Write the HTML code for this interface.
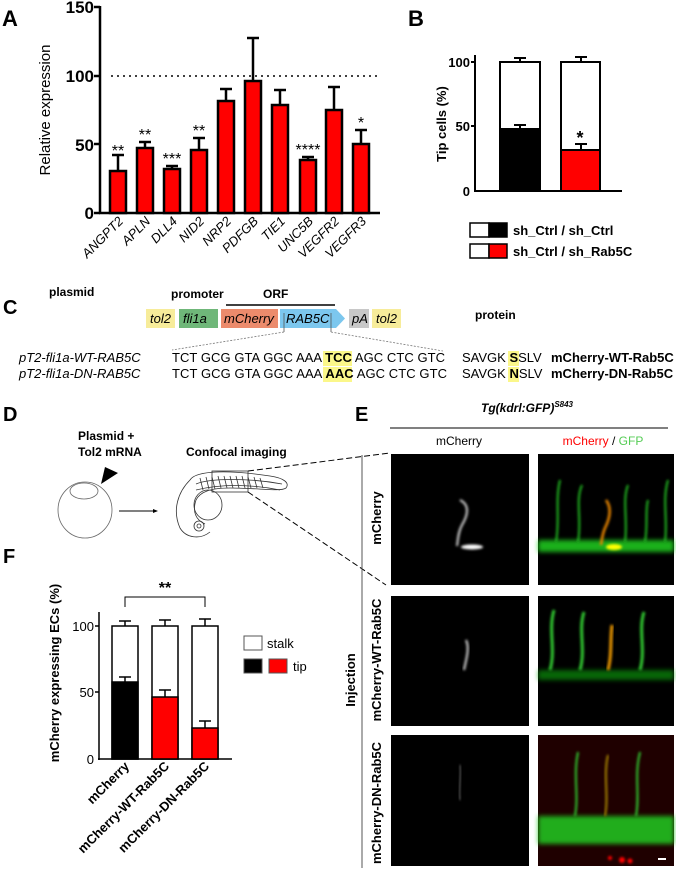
<!DOCTYPE html>
<html><head><meta charset="utf-8"><style>
html,body{margin:0;padding:0;background:#fff;}
svg{display:block;font-family:"Liberation Sans",Arial,sans-serif;}
</style></head><body>
<svg width="676" height="871" viewBox="0 0 676 871" xmlns="http://www.w3.org/2000/svg">
<defs>
<filter id="bl" x="-50%" y="-50%" width="200%" height="200%"><feGaussianBlur stdDeviation="1.2"/></filter>
<filter id="bl2" x="-50%" y="-50%" width="200%" height="200%"><feGaussianBlur stdDeviation="2.5"/></filter>
</defs>
<!-- Panel A -->
<text x="2" y="26" font-size="22" font-weight="bold">A</text>
<g font-weight="bold" font-size="17" text-anchor="end">
<text x="94" y="13">150</text><text x="94" y="82">100</text><text x="94" y="151">50</text><text x="94" y="219">0</text>
</g>
<g stroke="#000" stroke-width="2.5">
<line x1="100" y1="6" x2="100" y2="214"/><line x1="99" y1="213" x2="380" y2="213"/>
<line x1="94" y1="7" x2="100" y2="7"/><line x1="94" y1="76" x2="100" y2="76"/><line x1="94" y1="144" x2="100" y2="144"/><line x1="94" y1="213" x2="100" y2="213"/>
</g>
<text transform="translate(50,110) rotate(-90)" font-size="15" text-anchor="middle">Relative expression</text>
<line x1="111" y1="76" x2="377" y2="76" stroke="#000" stroke-width="1.5" stroke-dasharray="2,4"/>
<g stroke="#000" stroke-width="2.5">
<line x1="118" y1="171" x2="118" y2="155"/><line x1="112" y1="155" x2="124" y2="155"/>
<rect x="110" y="171" width="16" height="42" fill="#f00"/>
<line x1="145" y1="148" x2="145" y2="142"/><line x1="139" y1="142" x2="151" y2="142"/>
<rect x="137" y="148" width="16" height="65" fill="#f00"/>
<line x1="172" y1="169" x2="172" y2="166"/><line x1="166" y1="166" x2="178" y2="166"/>
<rect x="164" y="169" width="16" height="44" fill="#f00"/>
<line x1="199" y1="150" x2="199" y2="138"/><line x1="193" y1="138" x2="205" y2="138"/>
<rect x="191" y="150" width="16" height="63" fill="#f00"/>
<line x1="226" y1="101" x2="226" y2="89"/><line x1="220" y1="89" x2="232" y2="89"/>
<rect x="218" y="101" width="16" height="112" fill="#f00"/>
<line x1="253" y1="81" x2="253" y2="38"/><line x1="247" y1="38" x2="259" y2="38"/>
<rect x="245" y="81" width="16" height="132" fill="#f00"/>
<line x1="280" y1="105" x2="280" y2="90"/><line x1="274" y1="90" x2="286" y2="90"/>
<rect x="272" y="105" width="16" height="108" fill="#f00"/>
<line x1="308" y1="160" x2="308" y2="157"/><line x1="302" y1="157" x2="314" y2="157"/>
<rect x="300" y="160" width="16" height="53" fill="#f00"/>
<line x1="334" y1="110" x2="334" y2="87"/><line x1="328" y1="87" x2="340" y2="87"/>
<rect x="326" y="110" width="16" height="103" fill="#f00"/>
<line x1="361" y1="144" x2="361" y2="130"/><line x1="355" y1="130" x2="367" y2="130"/>
<rect x="353" y="144" width="16" height="69" fill="#f00"/>
</g>
<g font-size="16" text-anchor="middle">
<text x="118" y="156">**</text><text x="145" y="140">**</text><text x="172" y="164">***</text><text x="199" y="136">**</text><text x="308" y="155">****</text><text x="361" y="128">*</text>
</g>
<g font-size="13" font-style="italic" text-anchor="end">
<text transform="translate(124,222) rotate(-45)">ANGPT2</text>
<text transform="translate(151,222) rotate(-45)">APLN</text>
<text transform="translate(178,222) rotate(-45)">DLL4</text>
<text transform="translate(205,222) rotate(-45)">NID2</text>
<text transform="translate(232,222) rotate(-45)">NRP2</text>
<text transform="translate(259,222) rotate(-45)">PDFGB</text>
<text transform="translate(286,222) rotate(-45)">TIE1</text>
<text transform="translate(314,222) rotate(-45)">UNC5B</text>
<text transform="translate(340,222) rotate(-45)">VEGFR2</text>
<text transform="translate(367,222) rotate(-45)">VEGFR3</text>
</g>
<!-- Panel B -->
<text x="408" y="26" font-size="22" font-weight="bold">B</text>
<g font-weight="bold" font-size="13" text-anchor="end">
<text x="470" y="67">100</text><text x="470" y="131">50</text><text x="470" y="196">0</text>
</g>
<text transform="translate(446,124) rotate(-90)" font-size="13" font-weight="bold" text-anchor="middle">Tip cells (%)</text>
<g stroke="#000" stroke-width="2">
<line x1="475" y1="55" x2="475" y2="192"/><line x1="474" y1="191" x2="622" y2="191"/>
<line x1="471" y1="62" x2="475" y2="62"/><line x1="471" y1="126" x2="475" y2="126"/>
<line x1="520" y1="62" x2="520" y2="58"/><line x1="514" y1="58" x2="526" y2="58"/>
<rect x="500" y="62" width="40" height="129" fill="#fff"/>
<line x1="520" y1="129" x2="520" y2="125"/><line x1="514" y1="125" x2="526" y2="125"/>
<rect x="500" y="129" width="40" height="62" fill="#000"/>
<line x1="581" y1="62" x2="581" y2="57"/><line x1="575" y1="57" x2="587" y2="57"/>
<rect x="561" y="62" width="39" height="129" fill="#fff"/>
<line x1="581" y1="150" x2="581" y2="144"/><line x1="575" y1="144" x2="587" y2="144"/>
<rect x="561" y="150" width="39" height="41" fill="#f00"/>
</g>
<text x="580" y="144" font-size="18" font-weight="bold" text-anchor="middle">*</text>
<g stroke="#000" stroke-width="1.5">
<rect x="470" y="223" width="19" height="14" fill="#fff"/><rect x="489" y="223" width="18" height="14" fill="#000"/>
<rect x="470" y="244" width="19" height="14" fill="#fff"/><rect x="489" y="244" width="18" height="14" fill="#f00"/>
</g>
<g font-size="13" font-weight="bold"><text x="513" y="235">sh_Ctrl / sh_Ctrl</text><text x="513" y="256">sh_Ctrl / sh_Rab5C</text></g>
<!-- Panel C -->
<text x="3" y="314" font-size="20" font-weight="bold">C</text>
<g font-size="12" font-weight="bold"><text x="49" y="296">plasmid</text><text x="171" y="298">promoter</text><text x="263" y="298">ORF</text><text x="475" y="319">protein</text></g>
<line x1="226" y1="305" x2="335" y2="305" stroke="#000" stroke-width="1.5"/>
<rect x="146" y="309" width="29" height="19" fill="#f7ec9a"/>
<rect x="179" y="309" width="39" height="19" fill="#6fb779"/>
<rect x="221" y="309" width="57" height="19" fill="#ec8b6c"/>
<polygon points="280,309 336,309 345,318.5 336,328 280,328" fill="#7cc7ee"/>
<rect x="349" y="309" width="20" height="19" fill="#c8c8c8"/>
<rect x="372" y="309" width="29" height="19" fill="#f7ec9a"/>
<g font-size="13" font-style="italic">
<text x="150" y="323">tol2</text><text x="183" y="323">fli1a</text><text x="224" y="323">mCherry</text><text x="286" y="323">RAB5C</text><text x="352" y="323">pA</text><text x="376" y="323">tol2</text>
</g>
<g stroke="#555" stroke-width="0.8"><line x1="284" y1="313" x2="284" y2="332"/><line x1="331" y1="313" x2="331" y2="332"/></g>
<g stroke="#777" stroke-width="0.8" stroke-dasharray="2,1.5"><line x1="284" y1="332" x2="172" y2="350"/><line x1="331" y1="332" x2="443" y2="351"/></g>
<rect x="323" y="351" width="29" height="15" fill="#fbf78a"/>
<rect x="323" y="367" width="29" height="15" fill="#fbf78a"/>
<rect x="508" y="351" width="11" height="15" fill="#fbf78a"/>
<rect x="508" y="367" width="11" height="15" fill="#fbf78a"/>
<g font-size="13">
<text x="19" y="362" font-style="italic">pT2-fli1a-WT-RAB5C</text>
<text x="19" y="378" font-style="italic">pT2-fli1a-DN-RAB5C</text>
<text x="172" y="362" textLength="273" lengthAdjust="spacing">TCT GCG GTA GGC AAA <tspan font-weight="bold">TCC</tspan> AGC CTC GTC</text>
<text x="172" y="378" textLength="275" lengthAdjust="spacing">TCT GCG GTA GGC AAA <tspan font-weight="bold">AAC</tspan> AGC CTC GTC</text>
<text x="462" y="362">SAVGK <tspan font-weight="bold">S</tspan>SLV</text>
<text x="462" y="378">SAVGK <tspan font-weight="bold">N</tspan>SLV</text>
<text x="551" y="362" font-weight="bold">mCherry-WT-Rab5C</text>
<text x="551" y="378" font-weight="bold">mCherry-DN-Rab5C</text>
</g>
<!-- Panel D -->
<text x="3" y="421" font-size="20" font-weight="bold">D</text>
<g font-size="12" font-weight="bold">
<text x="78" y="440">Plasmid +</text><text x="78" y="456">Tol2 mRNA</text><text x="186" y="456">Confocal imaging</text>
</g>
<ellipse cx="85" cy="510" rx="27" ry="28" fill="none" stroke="#666" stroke-width="0.8"/>
<ellipse cx="84" cy="491" rx="14" ry="8" fill="none" stroke="#666" stroke-width="0.8"/>
<polygon points="101,484 105,467 118,473" fill="#000"/>
<line x1="119" y1="511" x2="157" y2="511" stroke="#000" stroke-width="1"/>
<polygon points="158,511 153,509 153,513" fill="#000"/>
<g fill="none" stroke="#333" stroke-width="0.8">
<path d="M190,480 C196,470 230,470 270,476 C284,478 290,483 286,488 C280,492 260,488 230,488 C210,488 200,492 196,500 C192,512 196,520 205,524 M190,480 C178,492 172,510 180,528 C186,538 200,540 210,532"/>
<path d="M196,484 C210,478 250,478 282,484"/><path d="M196,490 C220,484 250,484 280,490"/>
<ellipse cx="208" cy="505" rx="14" ry="15"/><circle cx="199" cy="526" r="5"/><circle cx="199" cy="526" r="2"/>
<path d="M200,478 L203,490 M206,477 L209,489 M212,477 L215,489 M218,476 L221,488 M224,476 L227,488 M230,476 L233,488 M236,476 L239,488 M242,476 L245,488 M248,477 L251,488 M254,477 L257,488 M260,478 L263,488"/>
</g>
<rect x="212" y="471" width="36" height="21" fill="none" stroke="#333" stroke-width="0.8"/>
<g stroke="#000" stroke-width="1" stroke-dasharray="6,3"><line x1="248" y1="471" x2="390" y2="453"/><line x1="248" y1="492" x2="386" y2="585"/></g>
<!-- Panel E -->
<text x="355" y="421" font-size="20" font-weight="bold">E</text>
<text x="527" y="412" font-size="12" font-weight="bold" font-style="italic" text-anchor="middle">Tg(kdrl:GFP)<tspan font-size="8" dy="-5">S843</tspan></text>
<line x1="390" y1="428" x2="668" y2="428" stroke="#000" stroke-width="1"/>
<text x="459" y="445" font-size="12" text-anchor="middle">mCherry</text>
<text x="603" y="445" font-size="12" text-anchor="middle"><tspan fill="#f00">mCherry</tspan> / <tspan fill="#5c5">GFP</tspan></text>
<line x1="362" y1="455" x2="362" y2="868" stroke="#555" stroke-width="1"/>
<text transform="translate(355,680) rotate(-90)" font-size="13" font-weight="bold" text-anchor="middle">Injection</text>
<g font-size="13" font-weight="bold" text-anchor="middle">
<text transform="translate(381,518) rotate(-90)">mCherry</text>
<text transform="translate(381,660) rotate(-90)">mCherry-WT-Rab5C</text>
<text transform="translate(381,803) rotate(-90)">mCherry-DN-Rab5C</text>
</g>
<rect x="391" y="454" width="138" height="131" fill="#000"/>
<rect x="538" y="454" width="136" height="131" fill="#000"/>
<rect x="391" y="596" width="138" height="130" fill="#000"/>
<rect x="538" y="596" width="136" height="130" fill="#000"/>
<rect x="391" y="735" width="138" height="131" fill="#000"/>
<rect x="538" y="735" width="136" height="131" fill="#000"/>
<path d="M460,500 C470,505 468,515 462,525 C458,532 458,540 457,546" stroke="#ddd" stroke-width="2" fill="none" filter="url(#bl)"/>
<ellipse cx="472" cy="547" rx="11" ry="2.5" fill="#fff" filter="url(#bl)"/>
<rect x="538" y="540" width="136" height="12" fill="#2d2" opacity="0.8" filter="url(#bl2)"/>
<g stroke="#2b2" stroke-width="2" fill="none" filter="url(#bl)">
<path d="M556,542 C560,520 555,500 560,480"/><path d="M578,542 C582,520 575,500 582,485"/><path d="M625,542 C628,520 622,500 628,485"/><path d="M665,542 C668,520 662,500 668,480"/><path d="M645,542 C648,525 645,510 648,500"/>
</g>
<path d="M606,500 C612,508 610,518 605,528 C602,535 602,540 601,545" stroke="#e80" stroke-width="2.5" fill="none" filter="url(#bl)"/>
<ellipse cx="614" cy="547" rx="8" ry="3" fill="#ff0" filter="url(#bl)"/>
<path d="M466,640 C470,648 466,660 464,670" stroke="#ddd" stroke-width="2" fill="none" filter="url(#bl)"/>
<rect x="538" y="670" width="136" height="10" fill="#1a1" opacity="0.6" filter="url(#bl2)"/>
<g stroke="#3c3" stroke-width="3" fill="none" filter="url(#bl)">
<path d="M550,670 C556,650 548,630 554,610"/><path d="M580,670 C586,650 578,630 584,612"/><path d="M640,670 C646,650 638,630 644,612"/>
</g>
<path d="M608,670 C612,655 610,640 612,625" stroke="#e90" stroke-width="3" fill="none" filter="url(#bl)"/>
<path d="M460,765 C462,775 458,790 460,800" stroke="#666" stroke-width="1.5" fill="none" filter="url(#bl)"/>
<rect x="538" y="735" width="136" height="131" fill="#300" opacity="0.6"/>
<rect x="538" y="816" width="136" height="28" fill="#2c2" opacity="0.85" filter="url(#bl2)"/>
<g stroke="#3c3" stroke-width="2" fill="none" filter="url(#bl)">
<path d="M575,816 C579,795 573,775 578,752"/><path d="M636,816 C640,795 634,775 640,752"/>
</g>
<path d="M605,816 C609,795 603,775 608,755" stroke="#a80" stroke-width="2" fill="none" filter="url(#bl)"/>
<g fill="#f00" filter="url(#bl)"><circle cx="622" cy="860" r="3"/><circle cx="630" cy="861" r="2.5"/><circle cx="610" cy="858" r="2"/></g>
<rect x="658" y="858" width="8" height="2" fill="#fff"/>
<!-- Panel F -->
<text x="3" y="563" font-size="20" font-weight="bold">F</text>
<text transform="translate(59,673) rotate(-90)" font-size="13" font-weight="bold" text-anchor="middle">mCherry expressing ECs (%)</text>
<g font-size="13" text-anchor="end"><text x="94" y="631">100</text><text x="94" y="697">50</text><text x="94" y="764">0</text></g>
<g stroke="#000" stroke-width="1.5">
<line x1="99" y1="612" x2="99" y2="760"/><line x1="98" y1="759" x2="232" y2="759"/>
<line x1="95" y1="626" x2="99" y2="626"/><line x1="95" y1="692" x2="99" y2="692"/>
<line x1="125" y1="626" x2="125" y2="621"/><line x1="119" y1="621" x2="131" y2="621"/>
<rect x="112" y="626" width="26" height="133" fill="#fff"/>
<line x1="125" y1="682" x2="125" y2="677"/><line x1="119" y1="677" x2="131" y2="677"/>
<rect x="112" y="682" width="26" height="77" fill="#000"/>
<line x1="165" y1="626" x2="165" y2="620"/><line x1="159" y1="620" x2="171" y2="620"/>
<rect x="152" y="626" width="26" height="133" fill="#fff"/>
<line x1="165" y1="697" x2="165" y2="690"/><line x1="159" y1="690" x2="171" y2="690"/>
<rect x="152" y="697" width="26" height="62" fill="#f00"/>
<line x1="205" y1="626" x2="205" y2="619"/><line x1="199" y1="619" x2="211" y2="619"/>
<rect x="192" y="626" width="26" height="133" fill="#fff"/>
<line x1="205" y1="728" x2="205" y2="721"/><line x1="199" y1="721" x2="211" y2="721"/>
<rect x="192" y="728" width="26" height="31" fill="#f00"/>
<polyline points="125,607 125,597 205,597 205,607" fill="none" stroke-width="1"/>
</g>
<text x="165" y="593" font-size="16" font-weight="bold" text-anchor="middle">**</text>
<g stroke="#555" stroke-width="1"><rect x="244" y="636" width="18" height="14" fill="#fff"/><rect x="244" y="659" width="18" height="14" fill="#000"/><rect x="269" y="659" width="18" height="14" fill="#f00"/></g>
<g font-size="13"><text x="267" y="648">stalk</text><text x="293" y="671">tip</text></g>
<g font-size="13" font-weight="bold" text-anchor="end">
<text transform="translate(130,767) rotate(-45)">mCherry</text>
<text transform="translate(170,767) rotate(-45)">mCherry-WT-Rab5C</text>
<text transform="translate(210,767) rotate(-45)">mCherry-DN-Rab5C</text>
</g>
</svg>
</body></html>
